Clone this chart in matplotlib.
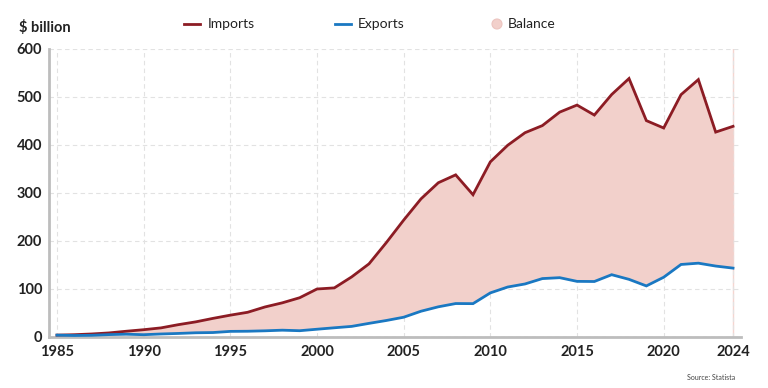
import matplotlib
matplotlib.use("Agg")
import matplotlib.pyplot as plt
from matplotlib.lines import Line2D
from matplotlib.patches import Ellipse

years = list(range(1985, 2025))
imports = [3.9, 4.8, 6.3, 8.5, 12.0, 15.2, 19.0, 25.7, 31.5, 38.8,
           45.5, 51.5, 62.6, 71.2, 81.8, 100.0, 102.3, 125.2, 152.4, 196.7,
           243.5, 287.8, 321.4, 337.8, 296.4, 364.9, 399.4, 425.6, 440.4, 468.5,
           483.2, 462.4, 505.2, 538.5, 450.8, 435.4, 504.9, 536.3, 426.9, 438.9]
exports = [3.9, 3.1, 3.5, 5.0, 5.8, 4.8, 6.3, 7.4, 8.8, 9.3,
           11.7, 12.0, 12.9, 14.2, 13.1, 16.2, 19.2, 22.1, 28.4, 34.4,
           41.2, 53.7, 62.9, 69.7, 69.5, 91.9, 104.1, 110.5, 121.7, 123.6,
           115.9, 115.6, 129.8, 120.1, 106.4, 124.5, 151.1, 153.8, 147.8, 143.5]
xticks = [1985, 1990, 1995, 2000, 2005, 2010, 2015, 2020, 2024]
yticks = [0, 100, 200, 300, 400, 500, 600]
legend_labels = ['Imports', 'Exports', 'Balance']

plt.rcParams['font.family'] = ['Lato', 'DejaVu Sans']

imp_c = '#8c1c24'
exp_c = '#1a78c2'
fill_c = '#f2d0cb'

W, H = 768, 388
fig = plt.figure(figsize=(W/100, H/100), dpi=100)
ax = fig.add_axes([49/W, 1-337/H, (741-49)/W, (337-49)/H])

ax.fill_between(years, exports, imports, color=fill_c, lw=0, zorder=1)
ax.plot(years, imports, color=imp_c, lw=2, zorder=3, solid_joinstyle='miter')
ax.plot(years, exports, color=exp_c, lw=2, zorder=3, solid_joinstyle='miter')
ax.axvline(2024, color='#f5d5d0', lw=1, zorder=0.5)

ax.set_xlim(1984.54, 2024.46)
ax.set_ylim(0, 600)
ax.set_xticks(xticks)
ax.set_yticks(yticks)
ax.grid(True, color='#e2e2e2', ls=(0, (4, 3)), lw=0.8, zorder=0)
ax.set_axisbelow(True)
for lab in ax.get_xticklabels() + ax.get_yticklabels():
    lab.set_fontweight('bold')
    lab.set_fontsize(10.5)
    lab.set_color('#222222')
ax.tick_params(length=0)
ax.tick_params(axis='y', pad=5)
ax.tick_params(axis='x', pad=6)
for s in ['top', 'right']:
    ax.spines[s].set_visible(False)
for s in ['left', 'bottom']:
    ax.spines[s].set_color('#bdbdbd')
    ax.spines[s].set_linewidth(2)

fig.text(19/W, 1-27/H, '$ billion', fontsize=10.5, fontweight='bold',
         color='#222222', va='center', ha='left')

# legend drawn manually in figure pixel positions
ly = 1 - 24/H
fig.add_artist(Line2D([184/W, 200/W], [ly, ly], color=imp_c, lw=2))
fig.text(208/W, ly, legend_labels[0], fontsize=10, color='#222222', va='center')
fig.add_artist(Line2D([335/W, 351/W], [ly, ly], color=exp_c, lw=2))
fig.text(358/W, ly, legend_labels[1], fontsize=10, color='#222222', va='center')
fig.add_artist(Ellipse((497/W, ly), 10/W, 10/H, facecolor=fill_c,
                       edgecolor='#ecc4bf', lw=0.8))
fig.text(508/W, ly, legend_labels[2], fontsize=10, color='#222222', va='center')

fig.text(735/W, 1-378/H, 'Source: Statista', fontsize=5, color='#444444',
         ha='right', va='center')

fig.savefig('out.png', dpi=100, facecolor='white')
